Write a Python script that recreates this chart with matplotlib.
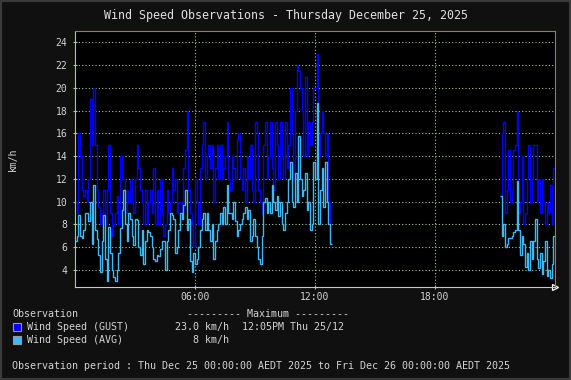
import numpy as np
import matplotlib
matplotlib.use("Agg")
import matplotlib.pyplot as plt
from matplotlib.patches import Rectangle

# 5-minute wind data, km/h (morning run from 00:00, evening run from 21:15)
gust_am = [10, 9, 16, 14, 11, 10.5, 11, 10, 12, 19, 15, 20,
           15, 11, 9.5, 8, 9, 11, 8, 11, 15, 9, 7, 8,
           9, 10.5, 8, 14, 12, 12, 9, 11, 10, 12, 10, 9,
           12, 15, 13, 11, 10, 8, 11, 8, 10, 11, 9, 13,
           8, 11, 8, 12, 9, 7, 8, 11, 9, 10, 13, 11,
           12, 9, 10, 10, 9, 13, 14.5, 18, 11, 9, 8, 6,
           12, 10, 8, 13, 15, 17, 12, 14, 15, 13, 15, 10,
           13, 15, 12, 15, 12, 13, 14, 17, 12, 11, 14, 13,
           12, 15.5, 16, 12, 11, 13, 10, 14, 12, 15, 11, 10,
           17, 16, 11, 10, 9, 15, 17, 12, 14, 17, 13, 11,
           17, 15, 12, 17, 14, 12, 17, 13, 15, 20, 16, 12,
           18, 22, 21.5, 20, 18, 14, 21, 14, 17, 15, 17, 20,
           20, 23, 14, 16, 18, 16, 14, 16, 10, 6.3]
avg_am = [6.5, 7, 8.8, 7, 6.8, 7.5, 9, 9, 8.3, 10, 6.3, 11.5,
          7.5, 6.7, 5.3, 3.8, 6.5, 8.8, 5, 3, 7.8, 5.5, 4, 3.4,
          3, 4, 5.5, 7.7, 9.3, 11, 8, 6.5, 9, 8.5, 7, 6.2,
          8.5, 8.4, 6, 5.3, 7.5, 4.5, 6.5, 7.5, 7.3, 7, 6, 5,
          4.8, 5.3, 5.2, 5.8, 6.5, 6.5, 4, 6.5, 7.5, 9, 8.8, 8.5,
          5.5, 6, 7.5, 9, 8.5, 9.7, 11, 7.5, 8.5, 4.8, 3.8, 5.5,
          4.5, 5, 6, 7.5, 8.5, 9, 7.5, 9, 7.5, 6.5, 8, 5,
          6.5, 7.5, 8, 9, 8, 9.5, 8, 11.5, 9, 9, 8.5, 10,
          8.3, 7, 7.5, 8, 8.5, 9, 9.5, 8.5, 9.3, 6.5, 7, 8.5,
          7, 6, 5, 4.5, 7, 10, 10.3, 9, 10, 9, 11.5, 10,
          9.3, 10.5, 8.7, 10, 8, 7.5, 9, 10, 12, 13.5, 10, 9.5,
          12.5, 10, 15.8, 12, 10.5, 11, 12.5, 9.3, 10, 7.5, 8, 13.5,
          12, 18.7, 8, 11, 13, 9.5, 13.5, 10, 8, 6.3]
gust_pm = [10.5, 16, 17, 9, 11, 14.5, 10, 11, 14.5, 15, 18, 9, 10, 14, 8, 9,
           12, 15, 10, 12, 15, 15, 10, 12, 9, 12, 10, 8, 10, 9, 11.5, 8, 13]
avg_pm = [10.5, 7, 8, 6, 6.3, 6.8, 6.8, 7, 7.3, 7.5, 11.8, 7.5, 5.3, 7, 6.3, 4.3,
          5.5, 4, 6.5, 5, 6.5, 8.5, 5, 4.2, 5.5, 3.6, 4.8, 6.5, 3.5, 4, 3.3, 4.5, 7]
step_h = 5 / 60
pm_start = 21.25

xticks = [6, 12, 18]
xlabels = ['06:00', '12:00', '18:00']
yticks = list(range(4, 25, 2))

W, H = 571, 380
txt = '#d4d4d4'
gust_col = '#0000ff'
avg_col = '#3fb8f4'
grid_col = '#a8cc90'
mono = 'DejaVu Sans Mono'

fig = plt.figure(figsize=(W / 100, H / 100), dpi=100, facecolor='#101010')
fig.patches.append(Rectangle((0, 0), 1, 1, transform=fig.transFigure,
                             fill=False, edgecolor='#3a3a3a', linewidth=3))
ax = fig.add_axes([75 / W, 1 - 287 / H, 480 / W, 256 / H], facecolor='black')
ax.set_axisbelow(True)

edges_am = np.arange(len(gust_am) + 1) * step_h
edges_pm = pm_start + np.arange(len(gust_pm) + 1) * step_h
ax.stairs(gust_am, edges_am, baseline=None, color=gust_col, lw=1)
ax.stairs(gust_pm, edges_pm, baseline=None, color=gust_col, lw=1)
ax.stairs(avg_am, edges_am, baseline=None, color=avg_col, lw=1)
ax.stairs(avg_pm, edges_pm, baseline=None, color=avg_col, lw=1)

ax.set_xlim(0, 24)
ax.set_ylim(2.5, 25)
ax.set_xticks(xticks, xlabels)
ax.set_yticks(yticks)
ax.grid(True, color=grid_col, linestyle=(0, (1, 2)), linewidth=0.8)
ax.tick_params(axis='both', colors=grid_col, direction='inout', length=3,
               labelcolor=txt, labelsize=7)
ax.tick_params(axis='y', pad=4)
ax.tick_params(axis='x', pad=2)
for lab in ax.get_xticklabels() + ax.get_yticklabels():
    lab.set_family(mono)

ax.spines['left'].set_color('#b0c888')
ax.spines['bottom'].set_color('#c8c8c8')
ax.spines['top'].set_color('#8a8a2a')
ax.spines['right'].set_color('#8a8a2a')
ax.plot([1.0], [0], marker='>', markersize=5, markerfacecolor='black',
        markeredgecolor='white', markeredgewidth=0.9,
        transform=ax.transAxes, clip_on=False)
ax.set_ylabel('km/h', color=txt, fontsize=7, family=mono, labelpad=27)


def ftext(x, y, s, **kw):
    kw.setdefault('ha', 'left')
    kw.setdefault('fontsize', 7.2)
    kw.setdefault('color', txt)
    fig.text(x / W, 1 - y / H, s, family=mono, va='center', **kw)


ftext(285.5, 15, 'Wind Speed Observations - Thursday December 25, 2025',
      ha='center', fontsize=8.4, color='#e0e0e0')

ftext(12, 314, 'Observation')
ftext(187, 314, '--------- Maximum ---------')
ftext(26.6, 327, 'Wind Speed (GUST)')
ftext(175, 327, '23.0 km/h')
ftext(242, 327, '12:05PM Thu 25/12')
ftext(26.6, 340, 'Wind Speed (AVG)')
ftext(229, 340, '8 km/h', ha='right')
ftext(12, 366, 'Observation period : Thu Dec 25 00:00:00 AEDT 2025 to '
      'Fri Dec 26 00:00:00 AEDT 2025')

for yc, col in [(327, gust_col), (340, avg_col)]:
    fig.patches.append(Rectangle((12.5 / W, 1 - (yc + 4) / H), 8 / W, 8 / H,
                                 transform=fig.transFigure, facecolor=col,
                                 edgecolor='#9a9a9a', linewidth=0.8))

fig.savefig('out.png', dpi=100, facecolor=fig.get_facecolor())
